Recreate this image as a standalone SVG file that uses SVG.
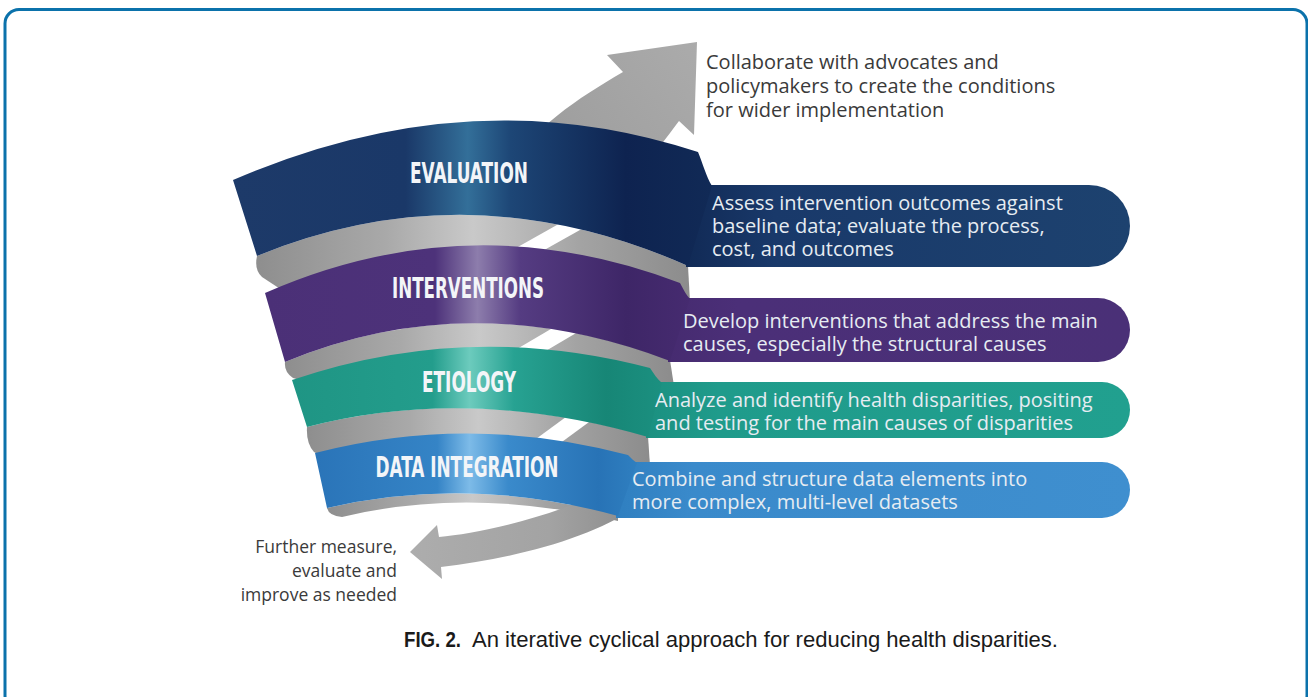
<svg xmlns="http://www.w3.org/2000/svg" width="1308" height="697" viewBox="0 0 1308 697">
  <style>
    .title{font-family:"Liberation Sans Narrow","DejaVu Sans Condensed",Roboto,sans-serif;font-weight:700;font-size:29px;fill:#f3f5f8;text-anchor:middle}
    .desc{font-family:"Open Sans","DejaVu Sans",sans-serif;font-size:20px;fill:#e6ecf2}
    .note{font-family:"Open Sans","DejaVu Sans",sans-serif;font-size:20px;fill:#3a3a3a}
    .note-sm{font-family:"Open Sans","DejaVu Sans",sans-serif;font-size:17.5px;fill:#3a3a3a;text-anchor:end}
    .cap{font-family:"Liberation Sans",Arial,sans-serif;font-size:22px;fill:#1a1a1a}
    .gap{fill:#ffffff}
  </style>
  <defs>
    <linearGradient id="gNavy" gradientUnits="userSpaceOnUse" x1="233" y1="0" x2="712" y2="0">
      <stop offset="0" stop-color="#1d3a69"/>
      <stop offset="0.36" stop-color="#1a3868"/>
      <stop offset="0.49" stop-color="#336f99"/>
      <stop offset="0.58" stop-color="#1d4676"/>
      <stop offset="0.82" stop-color="#0e2350"/>
      <stop offset="1" stop-color="#112a56"/>
    </linearGradient>
    <linearGradient id="gNavyBox" gradientUnits="userSpaceOnUse" x1="686" y1="0" x2="1130" y2="0">
      <stop offset="0" stop-color="#112a56"/>
      <stop offset="0.2" stop-color="#19396a"/>
      <stop offset="1" stop-color="#1d426f"/>
    </linearGradient>
    <linearGradient id="gPurple" gradientUnits="userSpaceOnUse" x1="265" y1="0" x2="690" y2="0">
      <stop offset="0" stop-color="#4b3077"/>
      <stop offset="0.4" stop-color="#4d327a"/>
      <stop offset="0.5" stop-color="#8d7dac"/>
      <stop offset="0.6" stop-color="#553c82"/>
      <stop offset="0.85" stop-color="#3e2667"/>
      <stop offset="1" stop-color="#462b70"/>
    </linearGradient>
    <linearGradient id="gPurpleBox" gradientUnits="userSpaceOnUse" x1="668" y1="0" x2="1130" y2="0">
      <stop offset="0" stop-color="#462b70"/>
      <stop offset="0.15" stop-color="#4b2f78"/>
      <stop offset="1" stop-color="#4a3077"/>
    </linearGradient>
    <linearGradient id="gTeal" gradientUnits="userSpaceOnUse" x1="292" y1="0" x2="662" y2="0">
      <stop offset="0" stop-color="#1f9584"/>
      <stop offset="0.38" stop-color="#239d8c"/>
      <stop offset="0.48" stop-color="#6ccbbd"/>
      <stop offset="0.6" stop-color="#27a292"/>
      <stop offset="0.85" stop-color="#178676"/>
      <stop offset="1" stop-color="#1b9080"/>
    </linearGradient>
    <linearGradient id="gTealBox" gradientUnits="userSpaceOnUse" x1="646" y1="0" x2="1130" y2="0">
      <stop offset="0" stop-color="#1b9080"/>
      <stop offset="0.15" stop-color="#1f9b8b"/>
      <stop offset="1" stop-color="#21a08f"/>
    </linearGradient>
    <linearGradient id="gBlue" gradientUnits="userSpaceOnUse" x1="315" y1="0" x2="637" y2="0">
      <stop offset="0" stop-color="#2a74b8"/>
      <stop offset="0.38" stop-color="#3584c6"/>
      <stop offset="0.48" stop-color="#7dbbe8"/>
      <stop offset="0.6" stop-color="#3a8acb"/>
      <stop offset="0.88" stop-color="#2873b6"/>
      <stop offset="1" stop-color="#2f7fc0"/>
    </linearGradient>
    <linearGradient id="gBlueBox" gradientUnits="userSpaceOnUse" x1="616" y1="0" x2="1130" y2="0">
      <stop offset="0" stop-color="#2f7fc0"/>
      <stop offset="0.15" stop-color="#3a8acb"/>
      <stop offset="1" stop-color="#3f8fcf"/>
    </linearGradient>
    <linearGradient id="gLip" gradientUnits="objectBoundingBox" x1="0" y1="0" x2="1" y2="0">
      <stop offset="0" stop-color="#8e8e8e"/>
      <stop offset="0.3" stop-color="#a9a9a9"/>
      <stop offset="0.5" stop-color="#c9c9c9"/>
      <stop offset="0.75" stop-color="#a3a3a3"/>
      <stop offset="1" stop-color="#8c8c8c"/>
    </linearGradient>
    <linearGradient id="gArrowUp" gradientUnits="userSpaceOnUse" x1="520" y1="180" x2="697" y2="42">
      <stop offset="0" stop-color="#9a9a9a"/>
      <stop offset="1" stop-color="#ababab"/>
    </linearGradient>
    <linearGradient id="gArrowDown" gradientUnits="userSpaceOnUse" x1="410" y1="0" x2="642" y2="0">
      <stop offset="0" stop-color="#adadad"/>
      <stop offset="0.6" stop-color="#a3a3a3"/>
      <stop offset="1" stop-color="#8a8a8a"/>
    </linearGradient>
  </defs>

  <!-- frame -->
  <rect x="5" y="9.5" width="1302" height="700" rx="14" fill="none" stroke="#0b72ab" stroke-width="3"/>

  <!-- inner grey surface of the spiral -->
  <g id="spiral-inner">
    <path fill="url(#gLip)" d="M257,256 Q470,169 688,266 L690,302 L300,302 L262,277 Q254,270 257,256 Z"/>
    <path fill="url(#gLip)" d="M285,362 Q470,285 670,360 L674,386 L320,386 L293,378 Q284,372 285,362 Z"/>
    <path fill="url(#gLip)" d="M307,427 Q468,385 648,436 L650,466 L340,466 L314,452 Q306,443 307,427 Z"/>
    <path fill="url(#gLip)" d="M327,508 Q470,475 618,516 L618,521 Q470,486 342,517 Q329,516 327,508 Z"/>
    <polygon class="gap" points="498,258 530,258 612,212 580,212"/>
    <polygon class="gap" points="495,362 527,362 605,316 573,316"/>
    <polygon class="gap" points="525,447 555,447 615,403 585,403"/>
  </g>

  <!-- connectors: the two sweeping arrows -->
  <g id="connectors">
    <path id="arrow-out" fill="url(#gArrowUp)" d="M607,55 L697,42 L694,135 L679,121 C665,140 655,152 640,175 L505,175 C530,130 575,100 623,72 Z"/>
    <path id="arrow-back" fill="url(#gArrowDown)" d="M410,552 L437,525 L439,537 C480,533 560,517 636,476 L642,503 C600,535 520,558 441,567 L442,579 Z"/>
  </g>

  <!-- EVALUATION -->
  <g id="node-evaluation">
    <path fill="url(#gNavyBox)" d="M686,185 H1089 A41,41 0 0 1 1089,267 H686 Z"/>
    <path fill="url(#gNavy)" d="M233,180 Q470,77 698,152 C703,164 706,176 712,186 L688,266 Q470,169 257,256 Z"/>
    <text class="title" x="469" y="183" textLength="118" lengthAdjust="spacingAndGlyphs">EVALUATION</text>
    <text class="desc" x="712" y="210">Assess intervention outcomes against</text>
    <text class="desc" x="712" y="233">baseline data; evaluate the process,</text>
    <text class="desc" x="712" y="256">cost, and outcomes</text>
  </g>

  <!-- INTERVENTIONS -->
  <g id="node-interventions">
    <path fill="url(#gPurpleBox)" d="M668,298 H1098 A32,32 0 0 1 1098,362 H668 Z"/>
    <path fill="url(#gPurple)" d="M265,293 Q470,203 680,283 C684,290 686,295 690,299 L670,361 Q470,285 285,362 Z"/>
    <text class="title" x="468" y="298" textLength="152" lengthAdjust="spacingAndGlyphs">INTERVENTIONS</text>
    <text class="desc" x="683" y="328">Develop interventions that address the main</text>
    <text class="desc" x="683" y="351">causes, especially the structural causes</text>
  </g>

  <!-- ETIOLOGY -->
  <g id="node-etiology">
    <path fill="url(#gTealBox)" d="M646,382 H1102 A28,28 0 0 1 1102,438 H646 Z"/>
    <path fill="url(#gTeal)" d="M292,380 Q468,320 650,368 C654,374 657,379 662,383 L648,437 Q468,385 307,427 Z"/>
    <text class="title" x="469" y="392" textLength="94" lengthAdjust="spacingAndGlyphs">ETIOLOGY</text>
    <text class="desc" x="655" y="407">Analyze and identify health disparities, positing</text>
    <text class="desc" x="655" y="430">and testing for the main causes of disparities</text>
  </g>

  <!-- DATA INTEGRATION -->
  <g id="node-data-integration">
    <path fill="url(#gBlueBox)" d="M616,462 H1102 A28,28 0 0 1 1102,518 H616 Z"/>
    <path fill="url(#gBlue)" d="M315,453 Q470,413 628,455 C631,458 634,461 637,463 L618,516 Q470,475 327,508 Z"/>
    <text class="title" x="467" y="477" textLength="183" lengthAdjust="spacingAndGlyphs">DATA INTEGRATION</text>
    <text class="desc" x="632" y="486">Combine and structure data elements into</text>
    <text class="desc" x="632" y="509">more complex, multi-level datasets</text>
  </g>

  <!-- outer notes -->
  <g id="note-scale-up">
    <text class="note" x="706" y="69">Collaborate with advocates and</text>
    <text class="note" x="706" y="93">policymakers to create the conditions</text>
    <text class="note" x="706" y="117">for wider implementation</text>
  </g>
  <g id="note-iterate">
    <text class="note-sm" x="397" y="553">Further measure,</text>
    <text class="note-sm" x="397" y="577">evaluate and</text>
    <text class="note-sm" x="397" y="601">improve as needed</text>
  </g>

  <!-- caption -->
  <text class="cap" y="647"><tspan x="404" font-weight="700" textLength="57" lengthAdjust="spacingAndGlyphs">FIG. 2.</tspan><tspan x="472" textLength="586" lengthAdjust="spacingAndGlyphs">An iterative cyclical approach for reducing health disparities.</tspan></text>
</svg>
